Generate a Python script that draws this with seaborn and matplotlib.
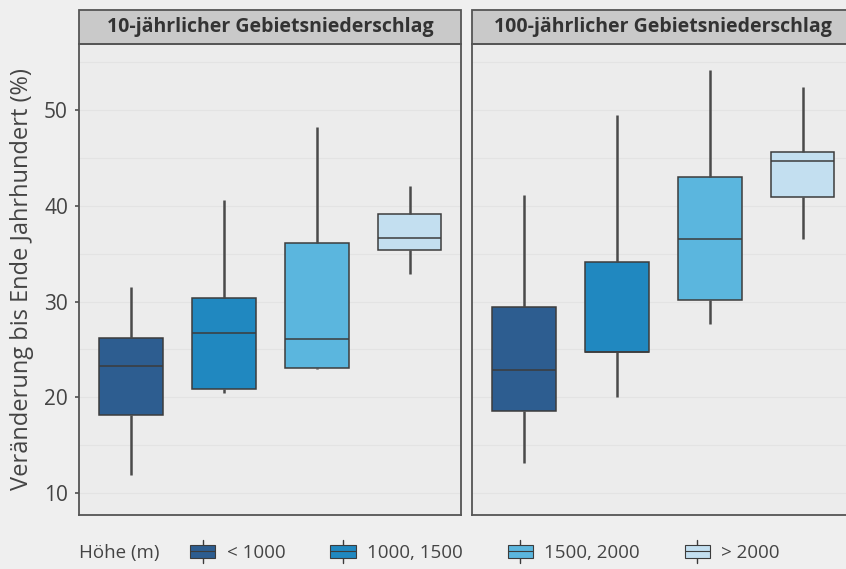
import numpy as np
import pandas as pd
import matplotlib.pyplot as plt
import matplotlib.patches as mpatches
import matplotlib.lines as mlines
from matplotlib.legend_handler import HandlerBase
from matplotlib.ticker import MultipleLocator
import seaborn as sns

# Panels und Höhenklassen
panels = ['10-jährlicher Gebietsniederschlag', '100-jährlicher Gebietsniederschlag']
hoehe = ['< 1000', '1000, 1500', '1500, 2000', '> 2000']
farben = ['#2d5d90', '#2088c0', '#5bb6de', '#c3dff0']

# Kennwerte je Box: Whisker unten, Q1, Median, Q3, Whisker oben
p10_min = [11.9, 20.4, 22.9, 32.9]
p10_q1 = [18.1, 20.9, 23.1, 35.4]
p10_med = [23.3, 26.7, 26.1, 36.6]
p10_q3 = [26.2, 30.4, 36.1, 39.1]
p10_max = [31.5, 40.6, 48.2, 42.1]

p100_min = [13.1, 20.0, 27.7, 36.5]
p100_q1 = [18.6, 24.7, 30.2, 40.9]
p100_med = [22.8, 24.7, 36.5, 44.7]
p100_q3 = [29.4, 34.1, 43.0, 45.6]
p100_max = [41.1, 49.5, 54.2, 52.4]

stats = {
    panels[0]: [p10_min, p10_q1, p10_med, p10_q3, p10_max],
    panels[1]: [p100_min, p100_q1, p100_med, p100_q3, p100_max],
}

# je Box 5 Werte -> Quartile und Whisker (whis=(0, 100)) treffen genau die Kennwerte
rows = []
for p in panels:
    for i, h in enumerate(hoehe):
        for reihe in stats[p]:
            rows.append({'panel': p, 'hoehe': h, 'wert': reihe[i]})
df = pd.DataFrame(rows)

sns.set_theme(style='white')
plt.rcParams['font.family'] = ['Open Sans', 'DejaVu Sans']

text_col = '#444444'
line_col = '#3c3c3c'

fig = plt.figure(figsize=(8.46, 5.69), dpi=100)
fig.patch.set_facecolor('#efefef')

ax_b = 1 - 515 / 569
ax_h = 471 / 569
ax1 = fig.add_axes([79 / 846, ax_b, 382 / 846, ax_h])
ax2 = fig.add_axes([472 / 846, ax_b, 382 / 846, ax_h])

for ax, p in zip([ax1, ax2], panels):
    ax.set_facecolor('#ececec')
    sns.boxplot(data=df[df.panel == p], x='hoehe', y='wert', hue='hoehe',
                order=hoehe, hue_order=hoehe, palette=farben, legend=False,
                saturation=1, whis=(0, 100), width=0.68, linecolor=line_col,
                linewidth=1.1, fliersize=0, showcaps=False,
                whiskerprops=dict(linewidth=1.8, color='#4a4a4a'), ax=ax)
    ax.set_xlim(-0.56, 3.55)
    ax.set_ylim(7.7, 56.9)
    ax.yaxis.set_major_locator(MultipleLocator(10))
    ax.yaxis.set_minor_locator(MultipleLocator(5))
    ax.grid(which='both', axis='y', color='#e3e3e3', lw=0.8)
    ax.set_axisbelow(True)
    ax.set_xticks([])
    ax.set_xlabel('')
    for s in ax.spines.values():
        s.set_color('#555555')
        s.set_linewidth(1.3)
    # Streifen mit Panel-Titel
    sh = 34 / 471
    ax.add_patch(mpatches.Rectangle((0, 1), 1, sh, transform=ax.transAxes,
                                    facecolor='#c9c9c9', edgecolor='#555555',
                                    lw=1.3, clip_on=False))
    ax.text(0.5, 1 + sh / 2, p, transform=ax.transAxes, ha='center', va='center',
            fontsize=14, fontweight='bold', color='#333333')

ax1.tick_params(axis='y', which='major', labelsize=15, labelcolor=text_col,
                length=3, color='#555555', pad=5, left=True)
ax1.tick_params(axis='y', which='minor', length=0)
ax1.set_ylabel('Veränderung bis Ende Jahrhundert (%)', fontsize=17,
               color=text_col, labelpad=7)
ax2.tick_params(axis='y', which='both', left=False, labelleft=False)
ax2.set_ylabel('')


class BoxHandler(HandlerBase):
    def create_artists(self, legend, orig_handle, xdescent, ydescent,
                       width, height, fontsize, trans):
        fc = orig_handle.get_facecolor()
        x0 = -xdescent
        cy = height / 2 - ydescent
        bh = height * 0.85
        mx = x0 + width / 2
        w1 = mlines.Line2D([mx, mx], [cy + bh / 2, cy + bh / 2 + height * 0.35],
                           color=line_col, lw=1.0, transform=trans)
        w2 = mlines.Line2D([mx, mx], [cy - bh / 2, cy - bh / 2 - height * 0.35],
                           color=line_col, lw=1.0, transform=trans)
        box = mpatches.Rectangle((x0, cy - bh / 2), width, bh, facecolor=fc,
                                 edgecolor=line_col, lw=0.8, transform=trans)
        med = mlines.Line2D([x0, x0 + width], [cy, cy], color=line_col,
                            lw=0.8, transform=trans)
        return [w1, w2, box, med]


handles = [mpatches.Patch(facecolor=c, label=h) for c, h in zip(farben, hoehe)]
fig.legend(handles=handles, handler_map={mpatches.Patch: BoxHandler()},
           loc='center left', bbox_to_anchor=(190 / 846, 1 - 553 / 569),
           ncol=4, frameon=False, fontsize=13.5, handlelength=1.35,
           handleheight=0.8, handletextpad=0.6, columnspacing=2.4,
           borderpad=0, borderaxespad=0, labelcolor=text_col)
fig.text(79 / 846, 1 - 553 / 569, 'Höhe (m)', va='center', ha='left',
         fontsize=13.5, color=text_col)

fig.savefig('out.png', dpi=100, facecolor=fig.get_facecolor())
